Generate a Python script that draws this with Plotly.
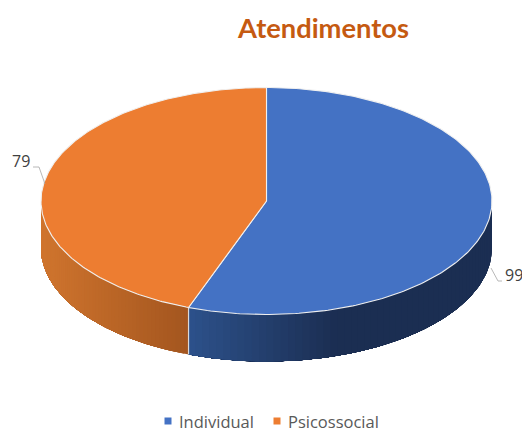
import numpy as np
import plotly.graph_objects as go

categories = ["Individual", "Psicossocial"]
values = [99, 79]
colors = ["#4472C4", "#ED7D31"]
chart_title = "Atendimentos"
label_x = [513.5, 20.5]
label_y = [275, 161]
legend_x = [168, 277]

W, H = 522, 428
cx, cy, rx, ry, depth = 266.5, 201, 225.5, 113.5, 47


def lerp_hex(a, b, f):
    a = [int(a[i:i + 2], 16) for i in (1, 3, 5)]
    b = [int(b[i:i + 2], 16) for i in (1, 3, 5)]
    return "rgb(%d,%d,%d)" % tuple(round(p + (q - p) * f) for p, q in zip(a, b))


def px(t):
    return cx + rx * np.sin(t)


def py(t):
    return cy - ry * np.cos(t)


def side_color(i, x):
    if i == 0:
        return lerp_hex("#2D528C", "#1B2E52", min(1, max(0, (x - 189) / 150)))
    return lerp_hex("#D0752E", "#A4561F", min(1, max(0, (x - 41) / 147)))


fig = go.Figure()
total = sum(values)
angles = np.cumsum([0] + values) / total * 2 * np.pi

# extruded side wall: overlapping strips, painted in order, give a smooth shade
for i in range(len(values)):
    a0, a1 = max(angles[i], np.pi / 2), min(angles[i + 1], 3 * np.pi / 2)
    edges = np.linspace(a0, a1, 61)
    for e0 in edges[:-1]:
        ts = np.linspace(e0, a1, 120)
        xs = list(px(ts)) + list(px(ts[::-1]))
        ys = list(py(ts)) + list(py(ts[::-1]) + depth)
        c = side_color(i, px(e0))
        fig.add_trace(go.Scatter(x=xs, y=ys, fill="toself", fillcolor=c, mode="lines",
                                 line=dict(width=0), showlegend=False, hoverinfo="skip"))

# divider on the side wall
t = angles[1]
fig.add_trace(go.Scatter(x=[px(t), px(t)], y=[py(t), py(t) + depth], mode="lines",
                         line=dict(color="#D9D9D9", width=1.2), showlegend=False, hoverinfo="skip"))

# top face
for i, (name, col) in enumerate(zip(categories, colors)):
    ts = np.linspace(angles[i], angles[i + 1], 240)
    xs = [cx] + list(px(ts)) + [cx]
    ys = [cy] + list(py(ts)) + [cy]
    fig.add_trace(go.Scatter(x=xs, y=ys, fill="toself", fillcolor=col, mode="lines",
                             line=dict(color="#F0F0F0", width=1.1), showlegend=False,
                             name=name, hoverinfo="skip"))

# leader lines
fig.add_trace(go.Scatter(x=[33, 39, 45], y=[167, 167, 184], mode="lines",
                         line=dict(color="#A6A6A6", width=0.8), showlegend=False, hoverinfo="skip"))
fig.add_trace(go.Scatter(x=[491, 498, 502], y=[268, 281, 281], mode="lines",
                         line=dict(color="#A6A6A6", width=0.8), showlegend=False, hoverinfo="skip"))

# legend entries
for name, col, x in zip(categories, colors, legend_x):
    fig.add_trace(go.Scatter(x=[x], y=[421], mode="markers", name=name,
                             showlegend=False, hoverinfo="skip",
                             marker=dict(symbol="square", size=7, color=col)))
    fig.add_annotation(x=x + 11, y=421.5, text=name, showarrow=False, xanchor="left", xshift=-2,
                       font=dict(family="Open Sans", size=16.5, color="#595959"))

# data labels
for v, x, y in zip(values, label_x, label_y):
    fig.add_annotation(x=x, y=y, text=str(v), showarrow=False,
                       font=dict(family="Open Sans", size=16, color="#404040"))

fig.update_layout(
    width=W, height=H, margin=dict(l=0, r=0, t=0, b=0),
    paper_bgcolor="white", plot_bgcolor="white", showlegend=False,
    title=dict(text="<b>%s</b>" % chart_title, x=323.5 / W, xanchor="center", y=1 - 28 / H, yanchor="middle",
               font=dict(family="Lato", size=27.3, color="#C55A11")),
    xaxis=dict(range=[0, W], visible=False, fixedrange=True),
    yaxis=dict(range=[H, 0], visible=False, fixedrange=True),
)
fig.write_html("out.html", post_script="document.body.style.margin='0';",
               config=dict(displayModeBar=False))
